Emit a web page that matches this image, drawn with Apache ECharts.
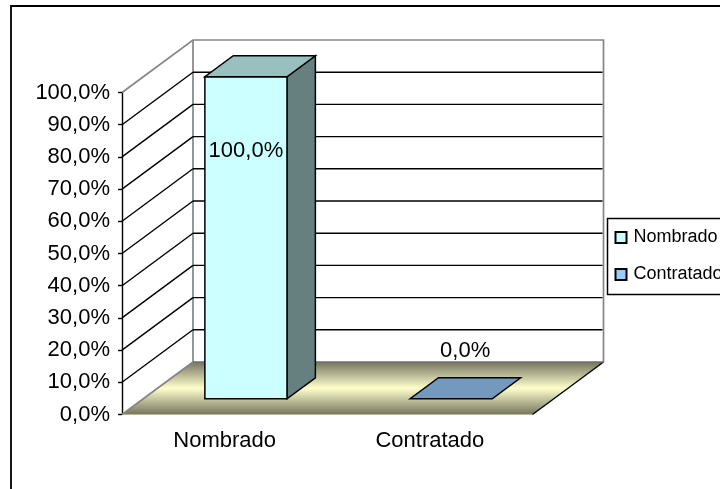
<!DOCTYPE html>
<html><head><meta charset="utf-8">
<style>html,body{margin:0;padding:0;background:#fff;overflow:hidden}#c{width:720px;height:489px}</style>
<script src="https://cdn.jsdelivr.net/npm/echarts@6/dist/echarts.min.js"></script>
</head><body><div id="c"></div>
<script>
const categories = ['Nombrado', 'Contratado'];
const valuesNombrado = [100, null];
const valuesContratado = [null, 0];
const valueTicks = [0, 10, 20, 30, 40, 50, 60, 70, 80, 90, 100];

const DEPTH_X = 71, DEPTH_Y = 52.5;
const FONT = '"Liberation Sans", Arial, sans-serif';
const pct = v => v.toFixed(1).replace('.', ',') + '%';

function renderShell(params, api) {
  const g = params.coordSys, x0 = g.x, x1 = g.x + g.width, y1 = g.y + g.height, y0 = g.y;
  const gray = { stroke: '#858585', lineWidth: 1.7, fill: null };
  return { type: 'group', silent: true, children: [
    { type: 'polygon', shape: { points: [[x0, y1], [x1, y1], [x1 + DEPTH_X, y1 - DEPTH_Y], [x0 + DEPTH_X, y1 - DEPTH_Y]] },
      style: { stroke: null, fill: { type: 'linear', x: 0, y: 0, x2: 0, y2: 1, colorStops: [
        { offset: 0, color: '#757560' }, { offset: 0.5, color: '#FFFFCC' }, { offset: 1, color: '#757560' }] } } },
    { type: 'line', shape: { x1: x1, y1: y1, x2: x1 + DEPTH_X, y2: y1 - DEPTH_Y }, style: { stroke: '#000', lineWidth: 1.4 } },
    { type: 'polyline', shape: { points: [[x0, y0], [x0 + DEPTH_X, y0 - DEPTH_Y], [x1 + DEPTH_X, y0 - DEPTH_Y], [x1 + DEPTH_X, y1 - DEPTH_Y]] }, style: gray },
    { type: 'polyline', shape: { points: [[x0, y1], [x0 + DEPTH_X, y1 - DEPTH_Y], [x0 + DEPTH_X, y0 - DEPTH_Y]] }, style: gray },
    { type: 'line', shape: { x1: x0 + DEPTH_X, y1: y1 - DEPTH_Y, x2: x1 + DEPTH_X, y2: y1 - DEPTH_Y }, style: { stroke: '#6e6e6e', lineWidth: 1.7 } }
  ] };
}

function renderGrid(params, api) {
  const v = api.value(1);
  if (v === 0 || v === 100) return null;
  const g = params.coordSys, y = api.coord([0, v])[1], x0 = g.x, x1 = g.x + g.width;
  const s = { stroke: '#000', lineWidth: 1.4 };
  return { type: 'group', silent: true, children: [
    { type: 'line', shape: { x1: x0, y1: y, x2: x0 + DEPTH_X, y2: y - DEPTH_Y }, style: s },
    { type: 'line', shape: { x1: x0 + DEPTH_X, y1: y - DEPTH_Y, x2: x1 + DEPTH_X - 1, y2: y - DEPTH_Y }, style: s }
  ] };
}

function renderBar(params, api) {
  const v = api.value(1);
  if (v == null || isNaN(v)) return null;
  const c = api.coord([api.value(0), v]), base = api.coord([api.value(0), 0]);
  const band = api.size([1, 0])[0];
  const w = band * 0.4, ox = DEPTH_X * 0.3, oy = DEPTH_Y * 0.3, dx = DEPTH_X * 0.4, dy = DEPTH_Y * 0.4;
  const xl = c[0] - w / 2 + ox, xr = xl + w, yt = c[1] - oy, yb = base[1] - oy;
  const h = yb - yt;
  const base0 = api.visual('color');
  const stroke = { stroke: '#000', lineWidth: 1.5, lineJoin: 'miter' };
  const kids = [];
  if (h > 0) {
    kids.push({ type: 'polygon', shape: { points: [[xr, yt], [xr + dx, yt - dy], [xr + dx, yb - dy], [xr, yb]] },
      style: Object.assign({ fill: echarts.color.lerp(0.5, [base0, '#000']) }, stroke) });
    kids.push({ type: 'rect', shape: { x: xl, y: yt, width: w, height: h }, style: Object.assign({ fill: base0 }, stroke) });
  }
  kids.push({ type: 'polygon', shape: { points: [[xl, yt], [xr, yt], [xr + dx, yt - dy], [xl + dx, yt - dy]] },
    style: Object.assign({ fill: echarts.color.lerp(0.25, [base0, '#000']) }, stroke) });
  const k = h / (params.coordSys.height);
  kids.push({ type: 'text', style: { text: pct(v), x: xl + w / 2 + 14 * (1 - k), y: yb - 48 - 0.621 * h,
    align: 'center', verticalAlign: 'middle', fill: '#000', font: '22px ' + FONT } });
  return { type: 'group', children: kids };
}

const barItem = color => ({ color: color, borderColor: '#000', borderWidth: 1.6 });
const option = {
  animation: false,
  backgroundColor: '#fff',
  grid: { left: 122, top: 92.5, width: 410.5, height: 322, containLabel: false },
  xAxis: { type: 'category', data: categories, boundaryGap: true,
    axisLine: { lineStyle: { color: '#FFFFCC', width: 1.4 } },
    axisTick: { show: true, length: 2, alignWithLabel: false, lineStyle: { color: '#FFFFCC' } },
    axisLabel: { color: '#000', fontFamily: FONT, fontSize: 22, margin: 15 }, splitLine: { show: false } },
  yAxis: { type: 'value', min: 0, max: 100, interval: 10,
    axisLine: { show: true, lineStyle: { color: '#000', width: 1.4 } },
    axisTick: { show: true, length: 4, lineStyle: { color: '#000', width: 1.4 } },
    axisLabel: { color: '#000', fontFamily: FONT, fontSize: 22, margin: 12, padding: [4, 0, 0, 0], formatter: v => pct(v) },
    splitLine: { show: false } },
  legend: { orient: 'vertical', left: 607.5, top: 218.5, selectedMode: false,
    data: categories, icon: 'rect', itemWidth: 11, itemHeight: 11, itemGap: 13,
    padding: [7, 20, 8, 7], borderColor: '#000', borderWidth: 1.5, borderRadius: 0,
    textStyle: { color: '#000', fontFamily: FONT, fontSize: 18, lineHeight: 19, padding: [5, 0, 0, 2] } },
  graphic: [{ type: 'rect', silent: true, z: -10, shape: { x: 11, y: 6, width: 760, height: 560 },
    style: { fill: '#fff', stroke: '#000', lineWidth: 1.8 } }],
  series: [
    { type: 'custom', name: 'shell', z: 1, renderItem: renderShell, data: [[0, 0]], encode: { x: 0, y: 1 }, silent: true },
    { type: 'custom', name: 'gridlines', z: 2, renderItem: renderGrid, data: valueTicks.map(t => [0, t]), encode: { x: 0, y: 1 }, silent: true },
    { type: 'custom', name: categories[0], z: 3, renderItem: renderBar, itemStyle: barItem('#CCFFFF'),
      data: valuesNombrado.map((v, i) => [i, v]).filter(d => d[1] !== null), encode: { x: 0, y: 1 } },
    { type: 'custom', name: categories[1], z: 3, renderItem: renderBar, itemStyle: barItem('#99CCFF'),
      data: valuesContratado.map((v, i) => [i, v]).filter(d => d[1] !== null), encode: { x: 0, y: 1 } }
  ]
};
echarts.init(document.getElementById('c'), null, { renderer: 'canvas' }).setOption(option);
</script></body></html>
